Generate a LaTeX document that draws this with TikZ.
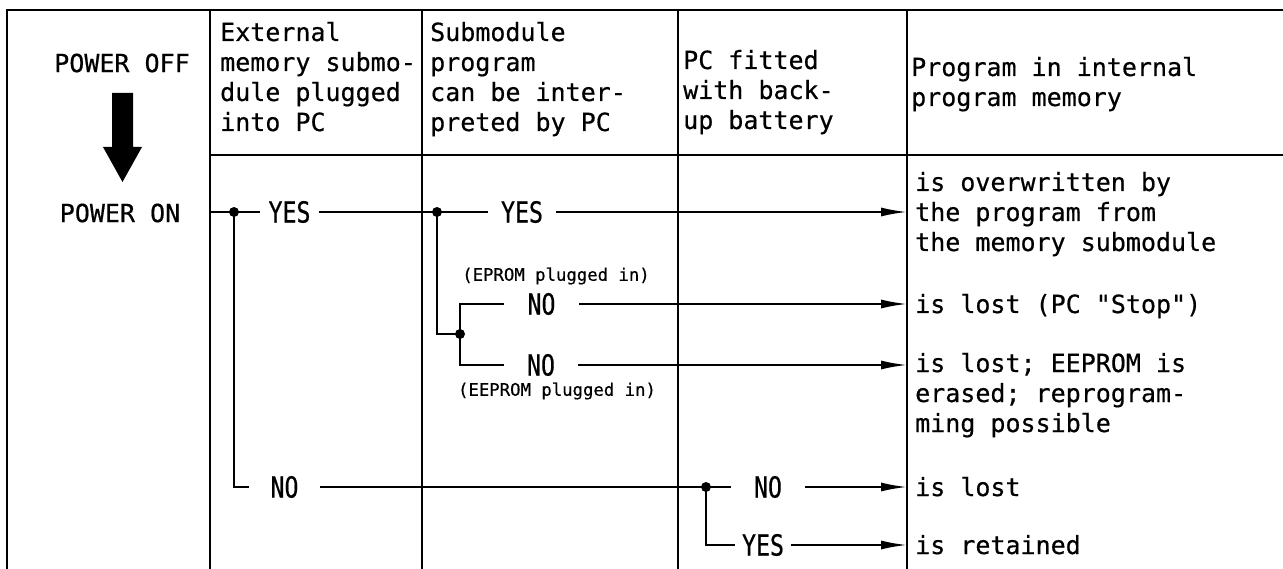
\documentclass[tikz,border=0pt]{standalone}
\usepackage{fontspec}
\usetikzlibrary{arrows.meta}
\newfontfamily\monofont[FakeBold=0.5]{DejaVu Sans Mono}
\newfontfamily\tagfont[FakeStretch=0.8,FakeBold=0.6]{DejaVu Sans Mono}

\begin{document}
\begin{tikzpicture}[x=1pt,y=-1pt,
		txt/.style={font=\monofont\fontsize{25}{30}\selectfont,inner sep=0pt,align=left},
		tag/.style={font=\tagfont\fontsize{29}{30}\selectfont,inner sep=0pt},
		note/.style={font=\monofont\fontsize{17.3}{20}\selectfont,inner sep=0pt},
		res/.style={txt,inner xsep=8pt,anchor=base west},
		grid/.style={line width=2.5pt},
		wire/.style={line width=1.9pt},
		tip/.style={wire,-{Latex[length=26pt,width=9pt]}}]
		\useasboundingbox (0,0) rectangle (1283,569);
		% table
		\draw[grid] (7,569) -- (7,10) -- (1283,10);
		\draw[grid] (210,155) -- (1283,155);
		\foreach \x in {210,422,678,907}
			\draw[grid] (\x,10) -- (\x,569);
		% power column
		\node[txt] (poweroff) at (122,63) {POWER OFF};
		\fill (112,93) -- (133,93) -- (133,147) -- (142,147) -- (122.5,182) -- (103,147) -- (112,147) -- cycle;
		\node[txt] (poweron) at (120,213) {POWER ON};
		% headings (base = last line)
		\node[txt,anchor=base west] (hdext) at (220,131) {External\\memory submo-\\dule plugged\\into PC};
		\node[txt,anchor=base west] (hdsub) at (430,131) {Submodule\\program\\can be inter-\\preted by PC};
		\node[txt,anchor=base west] (hdbat) at (683,129) {PC fitted\\with back-\\up battery};
		\node[txt,anchor=base west] (hdmem) at (911,106) {Program in internal\\program memory};
		% junctions
		\coordinate (jin) at (210,212);
		\coordinate (jA) at (234,212);
		\coordinate (jB) at (437,212);
		\coordinate (jC) at (460,334);
		\coordinate (jD) at (706,487);
		% answers
		\node[tag,minimum width=59pt] (yesA) at (289.5,212) {YES};
		\node[tag,minimum width=68pt] (yesB) at (522,212) {YES};
		\node[tag,minimum width=75pt] (noE) at (541.5,304) {NO};
		\node[tag,minimum width=74pt] (noEE) at (541,365) {NO};
		\node[tag,minimum width=71pt] (noA) at (284.5,487) {NO};
		\node[tag,minimum width=74pt] (noD) at (768,487) {NO};
		\node[tag,minimum width=55pt] (yesD) at (763,545) {YES};
		\node[note] (eprom) at (556,276) {(EPROM plugged in)};
		\node[note] (eeprom) at (557,391) {(EEPROM plugged in)};
		% results
		\node[res] (resover) at (907,251) {is overwritten by\\the program from\\the memory submodule};
		\node[res] (resstop) at (907,313) {is lost (PC "Stop")};
		\node[res] (reserase) at (907,432) {is lost; EEPROM is\\erased; reprogram-\\ming possible};
		\node[res] (reslost) at (907,496) {is lost};
		\node[res] (reskeep) at (907,554) {is retained};
		% branches
		\draw[wire] (jin) -- (yesA);
		\draw[wire] (yesA) -- (yesB);
		\draw[wire] (jA) |- (noA);
		\draw[wire] (jB) |- (jC);
		\draw[wire] (noE) -| (jC) |- (noEE);
		\draw[wire] (noA) -- (jD) -- (noD);
		\draw[wire] (jD) |- (yesD);
		\fill (jA) circle (5pt);
		\fill (jB) circle (5pt);
		\fill (jC) circle (5pt);
		\fill (jD) circle (5pt);
		\draw[tip] (yesB) -- (yesB -| resover.west);
		\draw[tip] (noE) -- (noE -| resstop.west);
		\draw[tip] (noEE) -- (noEE -| reserase.west);
		\draw[tip] (noD) -- (noD -| reslost.west);
		\draw[tip] (yesD) -- (yesD -| reskeep.west);
	\end{tikzpicture}
\end{document}
